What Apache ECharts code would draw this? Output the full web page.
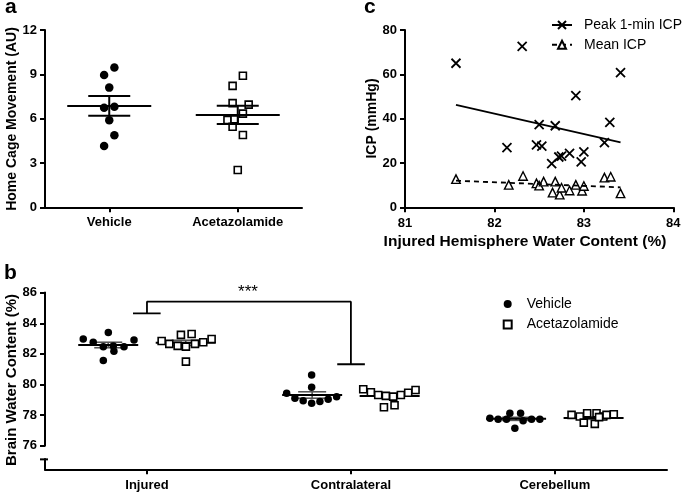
<!DOCTYPE html>
<html><head><meta charset="utf-8">
<script src="https://cdn.jsdelivr.net/npm/echarts@6/dist/echarts.min.js"></script>
<style>html,body{margin:0;padding:0;background:#fff}#c{width:685px;height:492px}</style>
</head><body><div id="c"></div>
<script>
// ---------- Panel a: Home cage movement ----------
const aCats = ['Vehicle', 'Acetazolamide'];
const aCatPos = [1, 3];
const aVehY = [9.46, 8.95, 8.1, 6.73, 6.81, 5.89, 4.87, 4.15];
const aVehX = [1.08, 0.92, 1.0, 0.92, 1.08, 1.0, 1.08, 0.92];
const aAczY = [8.9, 8.22, 7.05, 6.95, 6.34, 5.91, 5.95, 5.45, 4.89, 2.52];
const aAczX = [3.08, 2.92, 2.92, 3.17, 3.08, 2.84, 2.95, 2.92, 3.08, 3.0];
const aMean = [6.86, 6.25];
const aSem = [0.67, 0.62];
const aTicksY = [0, 3, 6, 9, 12];

// ---------- Panel b: Brain water content ----------
const bCats = ['Injured', 'Contralateral', 'Cerebellum'];
const bCatPos = [1, 3, 5];
const bGroupOffset = 0.38;
const bTicksY = [76, 78, 80, 82, 84, 86];
const bVehX = [0.375, 0.473, 0.621, 0.572, 0.676, 0.775, 0.873, 0.572, 0.67,
               2.37, 2.451, 2.532, 2.615, 2.615, 2.615, 2.696, 2.777, 2.86,
               4.363, 4.444, 4.526, 4.559, 4.608, 4.664, 4.689, 4.772, 4.853];
const bVehY = [82.97, 82.76, 83.39, 82.47, 82.17, 82.47, 82.91, 81.56, 82.52,
               79.42, 79.10, 78.94, 80.62, 79.82, 78.77, 78.88, 79.03, 79.20,
               77.79, 77.73, 77.73, 78.12, 77.14, 78.12, 77.63, 77.73, 77.73];
const bAczX = [1.144, 1.219, 1.301, 1.333, 1.382, 1.438, 1.471, 1.552, 1.634, 1.382,
               3.121, 3.196, 3.268, 3.343, 3.415, 3.49, 3.562, 3.634, 3.324, 3.428,
               5.164, 5.245, 5.317, 5.284, 5.409, 5.392, 5.474, 5.507, 5.578, 5.434];
const bAczY = [82.84, 82.65, 82.52, 83.24, 82.47, 83.30, 82.65, 82.76, 82.97, 81.49,
               79.69, 79.49, 79.31, 79.25, 79.20, 79.31, 79.46, 79.64, 78.51, 78.64,
               78.01, 77.90, 78.12, 77.50, 78.12, 77.42, 77.90, 78.01, 78.05, 77.86];
const bVehMean = [82.58, 79.31, 77.75];
const bVehSem = [0.18, 0.21, 0.10];
const bAczMean = [82.72, 79.25, 77.80];
const bAczSem = [0.17, 0.12, 0.08];
const bBracketX = [0.863, 1.134, 1.0, 1.0, 3.0, 3.0, 2.866, 3.137];
const bBracketY = [84.65, 84.65, 84.65, 85.41, 85.41, 81.32, 81.32, 81.32];
const bAxisSegTop = [86, 75.1];
const bAxisSegBottom = [76, 74.45];

// ---------- Panel c: ICP vs water content ----------
const cPeakX = [81.57, 82.31, 83.41, 82.91, 83.29, 82.50, 82.68, 82.14, 82.47, 82.53, 83.23, 82.64, 82.72, 82.75, 82.84, 83.0, 82.97];
const cPeakY = [65.0, 72.6, 60.8, 50.4, 38.3, 37.3, 36.8, 26.9, 28.2, 27.6, 29.2, 19.7, 22.7, 23.1, 24.3, 25.0, 20.5];
const cMeanX = [81.57, 82.16, 82.32, 82.47, 82.50, 82.55, 82.68, 82.65, 82.73, 82.75, 82.84, 82.91, 82.98, 83.0, 83.23, 83.30, 83.41];
const cMeanY = [12.7, 10.1, 14.1, 10.8, 9.8, 11.6, 11.6, 6.6, 5.7, 8.8, 7.6, 10.1, 7.5, 9.6, 13.4, 13.8, 6.3];
const cPeakFitX = [81.57, 83.41];
const cPeakFitY = [46.2, 29.3];
const cMeanFitX = [81.57, 83.41];
const cMeanFitY = [12.0, 9.0];

// ---------- helpers ----------
const F = "'Liberation Sans', Arial, sans-serif";
const zip = (xs, ys) => xs.map((x, i) => [x, ys[i]]);
const axLine = {show: true, onZero: false, lineStyle: {color: '#000', width: 2}};
const axTick = {show: true, length: 5, lineStyle: {color: '#000', width: 2}};
const lbl = {color: '#000', fontWeight: 'bold', fontSize: 13, fontFamily: F};
const crossPath = 'path://M0,0L10,10M10,0L0,10';

function meanSem(hw, cw, semColor, semW) {
  return function (params, api) {
    const x = api.value(0), m = api.value(1), s = api.value(2);
    const pm = api.coord([x, m]), pu = api.coord([x, m + s]), pl = api.coord([x, m - s]);
    const st = {stroke: semColor, lineWidth: semW};
    return {type: 'group', children: [
      {type: 'line', shape: {x1: pu[0], y1: pu[1], x2: pl[0], y2: pl[1]}, style: st},
      {type: 'line', shape: {x1: pu[0] - cw, y1: pu[1], x2: pu[0] + cw, y2: pu[1]}, style: st},
      {type: 'line', shape: {x1: pl[0] - cw, y1: pl[1], x2: pl[0] + cw, y2: pl[1]}, style: st},
      {type: 'line', shape: {x1: pm[0] - hw, y1: pm[1], x2: pm[0] + hw, y2: pm[1]}, style: {stroke: '#000', lineWidth: 2}}
    ]};
  };
}

const chart = echarts.init(document.getElementById('c'), null, {renderer: 'canvas'});

const option = {
  backgroundColor: '#fff',
  animation: false,
  textStyle: {fontFamily: F},
  grid: [
    {left: 45, top: 30, width: 257, height: 177.3, outerBoundsMode: 'none'},
    {left: 405, top: 30, width: 268.3, height: 177.3, outerBoundsMode: 'none'},
    {left: 45, top: 292.7, width: 622, height: 176.6, outerBoundsMode: 'none'}
  ],
  xAxis: [
    {gridIndex: 0, type: 'value', min: 0, max: 4, axisLine: axLine, splitLine: {show: false},
     axisTick: Object.assign({}, axTick, {customValues: aCatPos}),
     axisLabel: Object.assign({}, lbl, {customValues: aCatPos, margin: 9, formatter: v => aCats[aCatPos.indexOf(v)]})},
    {gridIndex: 1, type: 'value', min: 81, max: 84, interval: 1, axisLine: axLine, splitLine: {show: false},
     axisTick: axTick, axisLabel: Object.assign({}, lbl, {margin: 10})},
    {gridIndex: 2, type: 'value', min: 0, max: 6.1, axisLine: axLine, splitLine: {show: false},
     axisTick: Object.assign({}, axTick, {customValues: bCatPos}),
     axisLabel: Object.assign({}, lbl, {customValues: bCatPos, margin: 10, formatter: v => bCats[bCatPos.indexOf(v)]})}
  ],
  yAxis: [
    {gridIndex: 0, type: 'value', min: 0, max: 12, interval: 3, axisLine: axLine, splitLine: {show: false},
     axisTick: axTick, axisLabel: Object.assign({}, lbl, {margin: 8})},
    {gridIndex: 1, type: 'value', min: 0, max: 80, interval: 20, axisLine: axLine, splitLine: {show: false},
     axisTick: axTick, axisLabel: Object.assign({}, lbl, {margin: 8})},
    {gridIndex: 2, type: 'value', min: 74.45, max: 86, axisLine: {show: false}, splitLine: {show: false},
     axisTick: Object.assign({}, axTick, {customValues: bTicksY}),
     axisLabel: Object.assign({}, lbl, {customValues: bTicksY, margin: 8})}
  ],
  legend: [
    {data: ['Peak 1-min ICP', 'Mean ICP'], orient: 'vertical', left: 551, top: 17, padding: 0,
     itemWidth: 20, itemHeight: 10, itemGap: 3.8, selectedMode: false,
     textStyle: {color: '#000', fontSize: 14, fontFamily: F, lineHeight: 16, padding: [0, 0, 0, 7]}},
    {data: ['Vehicle', 'Acetazolamide'], orient: 'vertical', left: 502.7, top: 296, padding: 0,
     itemWidth: 8, itemHeight: 8, itemGap: 4.6, selectedMode: false,
     textStyle: {color: '#000', fontSize: 14, fontFamily: F, lineHeight: 16, padding: [0, 0, 0, 10]}}
  ],
  graphic: [
    {type: 'text', left: 5, top: -3, style: {text: 'a', font: 'bold 21px ' + F, fill: '#000'}},
    {type: 'text', left: 4, top: 263, style: {text: 'b', font: 'bold 21px ' + F, fill: '#000'}},
    {type: 'text', left: 364, top: -3, style: {text: 'c', font: 'bold 21px ' + F, fill: '#000'}},
    {type: 'text', x: 12, y: 119, rotation: Math.PI / 2,
     style: {text: 'Home Cage Movement (AU)', font: 'bold 14px ' + F, fill: '#000', align: 'center', verticalAlign: 'middle'}},
    {type: 'text', x: 12, y: 380, rotation: Math.PI / 2,
     style: {text: 'Brain Water Content (%)', font: 'bold 15px ' + F, fill: '#000', align: 'center', verticalAlign: 'middle'}},
    {type: 'text', x: 372, y: 118.5, rotation: Math.PI / 2,
     style: {text: 'ICP (mmHg)', font: 'bold 14px ' + F, fill: '#000', align: 'center', verticalAlign: 'middle'}},
    {type: 'text', x: 525, y: 242,
     style: {text: 'Injured Hemisphere Water Content (%)', font: 'bold 15.5px ' + F, fill: '#000', align: 'center', verticalAlign: 'middle'}},
    {type: 'text', x: 248, y: 292,
     style: {text: '***', font: '17px ' + F, fill: '#000', align: 'center', verticalAlign: 'middle'}}
  ],
  series: [
    // Panel a
    {name: 'a-Vehicle', type: 'scatter', xAxisIndex: 0, yAxisIndex: 0, data: zip(aVehX, aVehY),
     symbol: 'circle', symbolSize: 8.5, itemStyle: {color: '#000', opacity: 1}},
    {name: 'a-Acetazolamide', type: 'scatter', xAxisIndex: 0, yAxisIndex: 0, data: zip(aAczX, aAczY),
     symbol: 'rect', symbolSize: 7, itemStyle: {color: '#fff', borderColor: '#000', borderWidth: 1.6, opacity: 1}},
    {name: 'a-mean', type: 'custom', xAxisIndex: 0, yAxisIndex: 0, clip: false, z: 5,
     data: aCatPos.map((x, i) => [x, aMean[i], aSem[i]]), renderItem: meanSem(42, 21, '#000', 2)},
    // Panel c
    {name: 'Peak 1-min ICP', type: 'line', xAxisIndex: 1, yAxisIndex: 1, data: zip(cPeakFitX, cPeakFitY),
     symbol: crossPath, showSymbol: false, lineStyle: {color: '#000', width: 1.8},
     itemStyle: {color: '#000', borderColor: '#000', borderWidth: 1.6}},
    {name: 'Mean ICP', type: 'line', xAxisIndex: 1, yAxisIndex: 1, data: zip(cMeanFitX, cMeanFitY),
     symbol: 'triangle', showSymbol: false, lineStyle: {color: '#000', width: 1.8, type: [5, 4]},
     itemStyle: {color: '#fff', borderColor: '#000', borderWidth: 1.4}},
    {name: 'c-peak', type: 'scatter', xAxisIndex: 1, yAxisIndex: 1, data: zip(cPeakX, cPeakY),
     symbol: crossPath, symbolSize: 9, itemStyle: {color: '#000', borderColor: '#000', borderWidth: 1.8, opacity: 1}},
    {name: 'c-mean', type: 'scatter', xAxisIndex: 1, yAxisIndex: 1, data: zip(cMeanX, cMeanY),
     symbol: 'triangle', symbolSize: 8.5, itemStyle: {color: '#fff', borderColor: '#000', borderWidth: 1.4, opacity: 1}},
    // Panel b
    {name: 'b-axis', type: 'custom', xAxisIndex: 2, yAxisIndex: 2, clip: false, silent: true,
     data: bAxisSegTop.map((t, i) => [0, t, bAxisSegBottom[i]]),
     renderItem: function (params, api) {
       const p1 = api.coord([0, api.value(1)]), p2 = api.coord([0, api.value(2)]);
       const st = {stroke: '#000', lineWidth: 2};
       const ch = [{type: 'line', shape: {x1: p1[0], y1: p1[1] - 1, x2: p2[0], y2: p2[1] + 1}, style: st}];
       if (params.dataIndex === 1) ch.push({type: 'line', shape: {x1: p1[0] - 5, y1: p1[1], x2: p1[0] + 3, y2: p1[1]}, style: st});
       return {type: 'group', children: ch};
     }},
    {name: 'bracket', type: 'line', xAxisIndex: 2, yAxisIndex: 2, data: zip(bBracketX, bBracketY),
     symbol: 'none', lineStyle: {color: '#000', width: 1.8}},
    {name: 'b-vehmean', type: 'custom', xAxisIndex: 2, yAxisIndex: 2, clip: false, z: 1,
     data: bCatPos.map((x, i) => [x - bGroupOffset, bVehMean[i], bVehSem[i]]), renderItem: meanSem(30, 14, '#555', 1.6)},
    {name: 'b-aczmean', type: 'custom', xAxisIndex: 2, yAxisIndex: 2, clip: false, z: 1,
     data: bCatPos.map((x, i) => [x + bGroupOffset, bAczMean[i], bAczSem[i]]), renderItem: meanSem(30, 14, '#555', 1.6)},
    {name: 'Vehicle', type: 'scatter', xAxisIndex: 2, yAxisIndex: 2, data: zip(bVehX, bVehY), z: 3,
     symbol: 'circle', symbolSize: 7.5, itemStyle: {color: '#000', opacity: 1}},
    {name: 'Acetazolamide', type: 'scatter', xAxisIndex: 2, yAxisIndex: 2, data: zip(bAczX, bAczY), z: 3,
     symbol: 'rect', symbolSize: 7, itemStyle: {color: '#fff', borderColor: '#000', borderWidth: 1.6, opacity: 1}}
  ]
};
chart.setOption(option);
</script></body></html>
